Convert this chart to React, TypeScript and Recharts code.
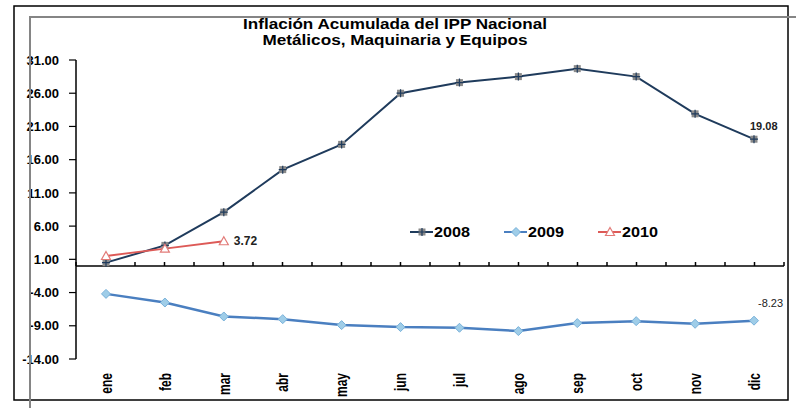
import React from 'react';
import { LineChart, Line, XAxis, YAxis, ReferenceLine, Legend } from 'recharts';

const months = ['ene', 'feb', 'mar', 'abr', 'may', 'jun', 'jul', 'ago', 'sep', 'oct', 'nov', 'dic'];
const inf2008 = [0.5, 3.1, 8.1, 14.5, 18.3, 26.0, 27.6, 28.5, 29.7, 28.5, 22.9, 19.08];
const inf2009 = [-4.2, -5.5, -7.6, -8.0, -8.9, -9.2, -9.3, -9.8, -8.6, -8.3, -8.7, -8.23];
const inf2010 = [1.5, 2.6, 3.72, null, null, null, null, null, null, null, null, null];
const yTicks = [-14, -9, -4, 1, 6, 11, 16, 21, 26, 31];
const seriesNames = ['2008', '2009', '2010'];
const titleLines = ['Inflación Acumulada del IPP Nacional', 'Metálicos, Maquinaria y Equipos'];

const data = months.map((m, i) => ({
  month: m,
  y2008: inf2008[i],
  y2009: inf2009[i],
  y2010: inf2010[i],
}));

const FONT = 'Liberation Sans, Arial, sans-serif';
const C2008 = '#1f3b5c';
const C2009 = '#4a7fc0';
const C2010 = '#dd5a57';

const starMarker = (cx: number, cy: number, key?: any) => (
  <g key={key}>
    <rect x={cx - 3.5} y={cy - 3.5} width={7} height={7} fill="#8a8a8a" />
    <path d={`M${cx - 4},${cy}H${cx + 4}M${cx},${cy - 4}V${cy + 4}`} stroke={C2008} strokeWidth={1.2} />
  </g>
);
const diamondMarker = (cx: number, cy: number, key?: any) => (
  <path
    key={key}
    d={`M${cx},${cy - 4.5}L${cx + 4.5},${cy}L${cx},${cy + 4.5}L${cx - 4.5},${cy}Z`}
    fill="#9fcde8"
    stroke="#78b1da"
    strokeWidth={1}
  />
);
const triangleMarker = (cx: number, cy: number, key?: any) => (
  <path
    key={key}
    d={`M${cx},${cy - 4.5}L${cx + 4.5},${cy + 3.5}L${cx - 4.5},${cy + 3.5}Z`}
    fill="#fff"
    stroke="#e27b78"
    strokeWidth={1.2}
  />
);
const markers = [starMarker, diamondMarker, triangleMarker];

const makeDot = (fn: any) => (p: any) => {
  if (p.cx == null || p.cy == null || p.value == null) return <g key={p.key ?? p.index} />;
  return fn(p.cx, p.cy, p.key ?? p.index);
};

const lastIndex = (arr: (number | null)[]) => {
  let k = -1;
  arr.forEach((v, i) => {
    if (v != null) k = i;
  });
  return k;
};

const label2008 = (p: any) =>
  p.index === lastIndex(inf2008) ? (
    <text key="l08" x={p.x - 4} y={p.y - 9} fontSize={11} fontWeight="bold" fill="#222" fontFamily={FONT}>
      {Number(p.value).toFixed(2)}
    </text>
  ) : null;
const label2009 = (p: any) =>
  p.index === lastIndex(inf2009) ? (
    <text key="l09" x={p.x + 4} y={p.y - 14} fontSize={11} fill="#222" fontFamily={FONT}>
      {Number(p.value).toFixed(2)}
    </text>
  ) : null;
const label2010 = (p: any) =>
  p.index === lastIndex(inf2010) ? (
    <text key="l10" x={p.x + 10} y={p.y + 4} fontSize={12} fontWeight="bold" fill="#222" fontFamily={FONT}>
      {Number(p.value).toFixed(2)}
    </text>
  ) : null;

const MonthTick = (p: any) => (
  <text
    transform={`translate(${p.x},${p.y + 6}) rotate(-90) scale(1,1.35)`}
    textAnchor="end"
    dy="0.35em"
    fontSize={12}
    fontWeight="bold"
    fill="#000"
    fontFamily={FONT}
  >
    {p.payload.value}
  </text>
);

const ZeroAxis = (p: any) => {
  const { x1, y1, x2 } = p;
  const n = months.length * 2;
  const step = (x2 - x1) / n;
  const ticks = [];
  for (let k = 0; k <= n; k++) {
    const x = x1 + k * step;
    ticks.push(<line key={k} x1={x} x2={x} y1={y1} y2={y1 - 4} stroke="#000" strokeWidth={1.5} />);
  }
  return (
    <g>
      <line x1={x1} x2={x2} y1={y1} y2={y1} stroke="#000" strokeWidth={1.5} />
      {ticks}
    </g>
  );
};

const LegendContent = (props: any) => {
  const payload = props.payload || [];
  return (
    <svg width={270} height={22}>
      {payload.map((e: any, i: number) => {
        const ox = i * 94;
        return (
          <g key={i}>
            <line x1={ox} x2={ox + 23} y1={11} y2={11} stroke={e.color} strokeWidth={2} />
            {markers[i](ox + 12, 11)}
            <text
              x={ox + 24}
              y={16}
              fontSize={14}
              fontWeight="bold"
              fill="#000"
              fontFamily={FONT}
              textLength={36}
              lengthAdjust="spacingAndGlyphs"
            >
              {e.value}
            </text>
          </g>
        );
      })}
    </svg>
  );
};

export default function App() {
  return (
    <div style={{ position: 'absolute', left: 0, top: 0, width: 796, height: 408, background: '#fff' }}>
      <LineChart width={796} height={408} data={data} margin={{ top: 60, right: 12, bottom: 0, left: 0 }}>
        <XAxis
          dataKey="month"
          height={49}
          axisLine={false}
          tickLine={false}
          interval={0}
          padding={{ left: 30, right: 30 }}
          tick={<MonthTick />}
        />
        <YAxis
          width={76}
          domain={[-14, 31]}
          ticks={yTicks}
          interval={0}
          tickSize={7}
          tickMargin={10}
          tickFormatter={(v: number) => v.toFixed(2)}
          tick={{ fontSize: 13, fontWeight: 'bold', fill: '#000', fontFamily: FONT }}
          axisLine={{ stroke: '#000', strokeWidth: 1.5 }}
          tickLine={{ stroke: '#000', strokeWidth: 1.2 }}
        />
        <ReferenceLine y={0} shape={ZeroAxis} />
        <Legend
          layout="horizontal"
          verticalAlign="middle"
          align="center"
          wrapperStyle={{ left: 410, top: 221, width: 270, height: 22 }}
          content={<LegendContent />}
        />
        <Line
          name={seriesNames[0]}
          dataKey="y2008"
          stroke={C2008}
          strokeWidth={2}
          dot={makeDot(starMarker)}
          activeDot={false}
          label={label2008}
          isAnimationActive={false}
        />
        <Line
          name={seriesNames[1]}
          dataKey="y2009"
          stroke={C2009}
          strokeWidth={2.5}
          dot={makeDot(diamondMarker)}
          activeDot={false}
          label={label2009}
          isAnimationActive={false}
        />
        <Line
          name={seriesNames[2]}
          dataKey="y2010"
          stroke={C2010}
          strokeWidth={1.8}
          dot={makeDot(triangleMarker)}
          activeDot={false}
          label={label2010}
          isAnimationActive={false}
        />
      </LineChart>
      <svg
        width={796}
        height={408}
        style={{ position: 'absolute', left: 0, top: 0, pointerEvents: 'none' }}
      >
        <rect x={14} y={6} width={774} height={394} fill="none" stroke="#000" strokeWidth={1.5} />
        <path d="M30,408V17H796" fill="none" stroke="#858585" strokeWidth={2} />
        <text
          x={395}
          y={28.5}
          textAnchor="middle"
          fontSize={14}
          fontWeight="bold"
          fill="#000"
          fontFamily={FONT}
          textLength={304}
          lengthAdjust="spacingAndGlyphs"
        >
          {titleLines[0]}
        </text>
        <text
          x={395}
          y={45}
          textAnchor="middle"
          fontSize={14}
          fontWeight="bold"
          fill="#000"
          fontFamily={FONT}
          textLength={265}
          lengthAdjust="spacingAndGlyphs"
        >
          {titleLines[1]}
        </text>
      </svg>
    </div>
  );
}
